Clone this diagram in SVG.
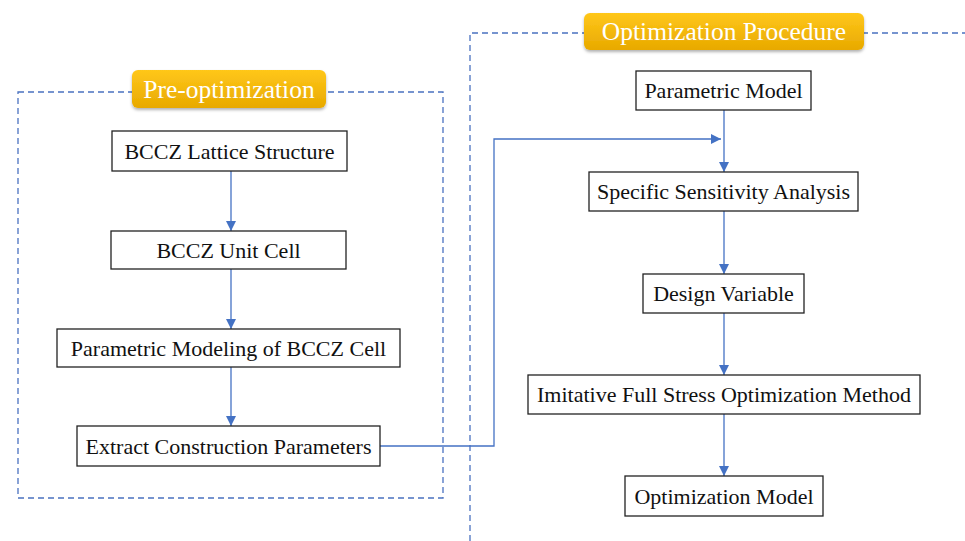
<svg xmlns="http://www.w3.org/2000/svg" width="965" height="541" viewBox="0 0 965 541">
<defs>
<linearGradient id="gold" x1="0" y1="0" x2="0" y2="1">
<stop offset="0" stop-color="#FFC71A"/>
<stop offset="1" stop-color="#E8A900"/>
</linearGradient>
<filter id="sh" x="-10%" y="-20%" width="120%" height="160%">
<feDropShadow dx="0" dy="2" stdDeviation="1.5" flood-color="#000" flood-opacity="0.3"/>
</filter>
<marker id="arr" viewBox="0 0 10 10" refX="10" refY="5" markerWidth="10" markerHeight="10" markerUnits="userSpaceOnUse" orient="auto">
<path d="M0,0 L10,5 L0,10 z" fill="#4472C4"/>
</marker>
<style>
.frame{fill:none;stroke:#4A72C0;stroke-width:1.3;stroke-dasharray:6 4}
.box{fill:#fff;stroke:#222;stroke-width:1.3}
.t{font-family:"Liberation Serif","Times New Roman",serif;font-size:22px;fill:#111;text-anchor:middle;dominant-baseline:central}
.lbl{fill:url(#gold);filter:url(#sh)}
.lt{font-family:"Liberation Serif","Times New Roman",serif;font-size:25.5px;fill:#fff;text-anchor:middle;dominant-baseline:central}
.c{fill:none;stroke:#4472C4;stroke-width:1.3;marker-end:url(#arr)}
</style>
</defs>
<rect width="965" height="541" fill="#fff"/>
<g id="frames">
<rect class="frame" x="18" y="92" width="425" height="406"/>
<path class="frame" d="M470,541 L470,33 L965,33"/>
</g>
<g id="label-pre">
<rect class="lbl" x="132" y="70" width="194" height="38" rx="6"/>
<text class="lt" x="229" y="89">Pre-optimization</text>
</g>
<g id="label-opt">
<rect class="lbl" x="584" y="13" width="280" height="37" rx="6"/>
<text class="lt" x="724" y="31.5">Optimization Procedure</text>
</g>
<g id="connectors">
<path class="c" d="M231,171 L231,231"/>
<path class="c" d="M231,269 L231,329"/>
<path class="c" d="M231,367 L231,426"/>
<path class="c" d="M380,446 L494,446 L494,139 L721,139"/>
<path class="c" d="M724,110 L724,172"/>
<path class="c" d="M724,211 L724,274"/>
<path class="c" d="M724,313 L724,375"/>
<path class="c" d="M724,414 L724,476"/>
</g>
<g id="n1"><rect class="box" x="112" y="131" width="235" height="40"/><text class="t" x="229.5" y="151">BCCZ Lattice Structure</text></g>
<g id="n2"><rect class="box" x="111" y="231" width="235" height="38"/><text class="t" x="228.5" y="250">BCCZ Unit Cell</text></g>
<g id="n3"><rect class="box" x="57" y="329" width="343" height="38"/><text class="t" x="228.5" y="348">Parametric Modeling of BCCZ Cell</text></g>
<g id="n4"><rect class="box" x="77" y="426" width="303" height="40"/><text class="t" x="228.5" y="446">Extract Construction Parameters</text></g>
<g id="m1"><rect class="box" x="636" y="71" width="175" height="39"/><text class="t" x="723.5" y="90.5">Parametric Model</text></g>
<g id="m2"><rect class="box" x="589" y="172" width="269" height="39"/><text class="t" x="723.5" y="191.5">Specific Sensitivity Analysis</text></g>
<g id="m3"><rect class="box" x="643" y="274" width="161" height="39"/><text class="t" x="723.5" y="293.5">Design Variable</text></g>
<g id="m4"><rect class="box" x="528" y="375" width="392" height="39"/><text class="t" x="724" y="394.5">Imitative Full Stress Optimization Method</text></g>
<g id="m5"><rect class="box" x="625" y="476" width="198" height="40"/><text class="t" x="724" y="496">Optimization Model</text></g>
</svg>
